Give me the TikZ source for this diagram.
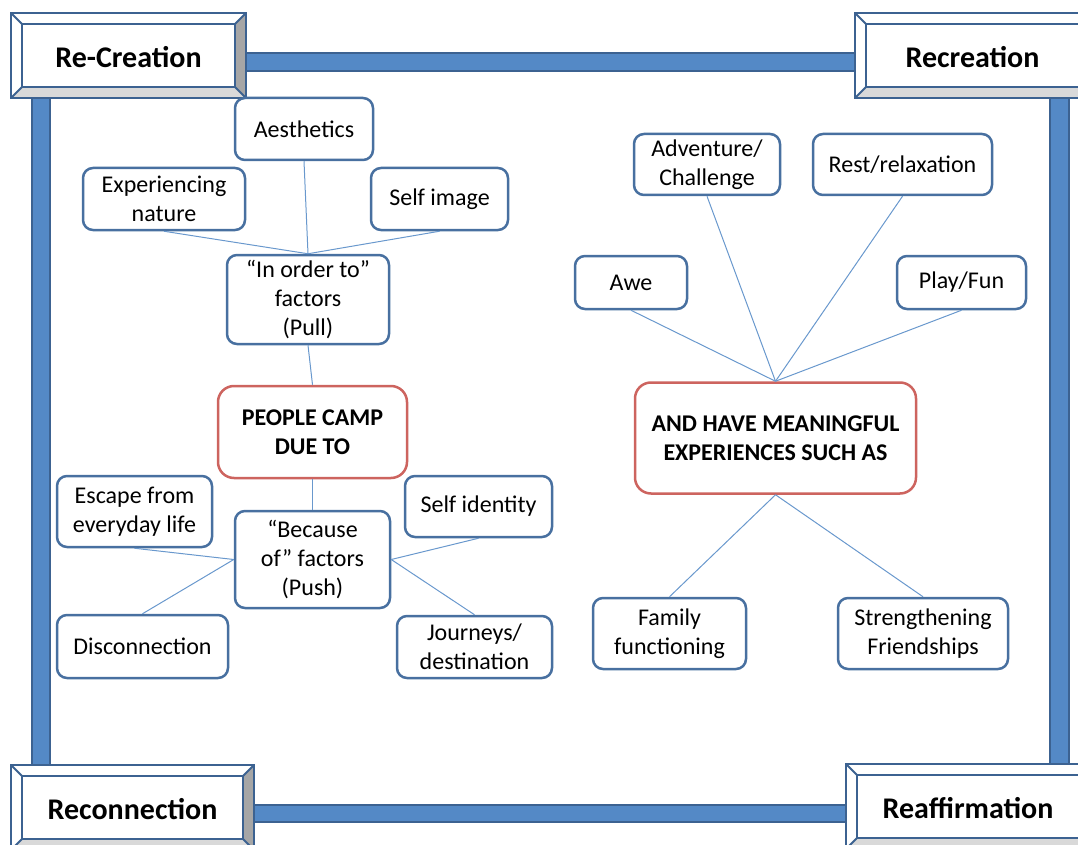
\documentclass[tikz,border=0pt]{standalone}
\usepackage{fontspec}
\setmainfont{Carlito}
\definecolor{barfill}{RGB}{84,137,198}
\definecolor{barline}{RGB}{60,98,145}
\definecolor{boxline}{RGB}{72,112,160}
\definecolor{redline}{RGB}{205,100,95}
\definecolor{connc}{RGB}{105,152,205}
\definecolor{bevR}{RGB}{166,166,166}
\definecolor{bevB}{RGB}{217,217,217}
\tikzset{
  box/.style={draw=boxline, line width=2.5pt, rounded corners=10pt, fill=white, align=center,
    inner sep=0pt, font=\fontsize{24}{29}\selectfont},
  redbox/.style={box, draw=redline, rounded corners=16pt, font=\bfseries\fontsize{24}{29}\selectfont},
  conn/.style={draw=connc, line width=1pt},
  barstyle/.style={fill=barfill, draw=barline, line width=1.5pt},
  cornerline/.style={draw=barline, line width=2pt},
  cornertext/.style={inner sep=0pt, font=\bfseries\fontsize{30}{36}\selectfont}
}
\newcommand\cornerbox[6]{%
  \fill[white] (#2,#3) rectangle (#4,#5);
  \fill[bevR] (#4,#3) -- (#4,#5) -- ({#4-11},{#5-11}) -- ({#4-11},{#3+11}) -- cycle;
  \fill[bevB] (#2,#5) -- (#4,#5) -- ({#4-11},{#5-11}) -- ({#2+11},{#5-11}) -- cycle;
  \draw[cornerline] ({#2+11},{#3+11}) rectangle ({#4-11},{#5-11});
  \draw[cornerline] (#2,#3) -- ({#2+11},{#3+11});
  \draw[cornerline] (#4,#3) -- ({#4-11},{#3+11});
  \draw[cornerline] (#2,#5) -- ({#2+11},{#5-11});
  \draw[cornerline] (#4,#5) -- ({#4-11},{#5-11});
  \draw[cornerline] (#2,#3) rectangle (#4,#5);
  \node[cornertext] (#1) at ({(#2+#4)/2},{(#3+#5)/2+2}) {#6};
}
\begin{document}
\begin{tikzpicture}[x=1pt,y=-1pt]
\useasboundingbox (0,0) rectangle (1078,845);
\clip (0,0) rectangle (1078,845);
% frame bars
\draw[barstyle] (240,53) rectangle (860,71);
\draw[barstyle] (32,92) rectangle (50,770);
\draw[barstyle] (1050,92) rectangle (1069,770);
\draw[barstyle] (248,805) rectangle (850,822);
% corner boxes
\cornerbox{rc}{11}{13}{246}{98}{Re-Creation}
\cornerbox{rec}{855}{13}{1090}{98}{Recreation}
\cornerbox{recon}{11}{765}{254}{850}{Reconnection}
\cornerbox{reaff}{846}{764}{1090}{849}{Reaffirmation}
% left cluster
\node[box, minimum width=138pt, minimum height=62pt] (aes) at (304,129) {Aesthetics};
\node[box, minimum width=162pt, minimum height=62pt] (exp) at (164,199) {Experiencing\\nature};
\node[box, minimum width=137pt, minimum height=62pt] (simg) at (439.5,199) {Self image};
\node[box, minimum width=162pt, minimum height=89pt] (pull) at (308,299.5) {“In order to”\\factors\\(Pull)};
\node[redbox, minimum width=189pt, minimum height=92pt] (people) at (312.5,432) {PEOPLE CAMP\\DUE TO};
\node[box, minimum width=155pt, minimum height=97pt] (push) at (312.5,559.5) {“Because\\of” factors\\(Push)};
\node[box, minimum width=155pt, minimum height=71pt] (esc) at (134.5,511.5) {Escape from\\everyday life};
\node[box, minimum width=147pt, minimum height=61pt] (sid) at (478.5,506.5) {Self identity};
\node[box, minimum width=171pt, minimum height=63pt] (disc) at (142.5,646.5) {Disconnection};
\node[box, minimum width=155pt, minimum height=62pt] (jour) at (474.5,647) {Journeys/\\destination};
% right cluster
\node[box, minimum width=146pt, minimum height=61pt] (adv) at (707,164.5) {Adventure/\\Challenge};
\node[box, minimum width=179pt, minimum height=61pt] (rest) at (902.5,164.5) {Rest/relaxation};
\node[box, minimum width=112pt, minimum height=53pt] (awe) at (631,282.5) {Awe};
\node[box, minimum width=129pt, minimum height=53pt] (play) at (961.5,282.5) {Play/Fun};
\node[redbox, minimum width=281pt, minimum height=111pt] (and) at (775.5,438) {AND HAVE MEANINGFUL\\EXPERIENCES SUCH AS};
\node[box, minimum width=153pt, minimum height=71pt] (fam) at (669.5,633.5) {Family\\functioning};
\node[box, minimum width=170pt, minimum height=71pt] (str) at (923,633.5) {Strengthening\\Friendships};
% connectors
\draw[conn] (aes.south) -- (pull.north);
\draw[conn] (exp.south) -- (pull.north);
\draw[conn] (simg.south) -- (pull.north);
\draw[conn] (pull.south) -- (people.north);
\draw[conn] (people.south) -- (push.north);
\draw[conn] (esc.south) -- (push.west);
\draw[conn] (disc.north) -- (push.west);
\draw[conn] (sid.south) -- (push.east);
\draw[conn] (jour.north) -- (push.east);
\draw[conn] (awe.south) -- (and.north);
\draw[conn] (adv.south) -- (and.north);
\draw[conn] (rest.south) -- (and.north);
\draw[conn] (play.south) -- (and.north);
\draw[conn] (and.south) -- (fam.north);
\draw[conn] (and.south) -- (str.north);
\end{tikzpicture}
\end{document}
